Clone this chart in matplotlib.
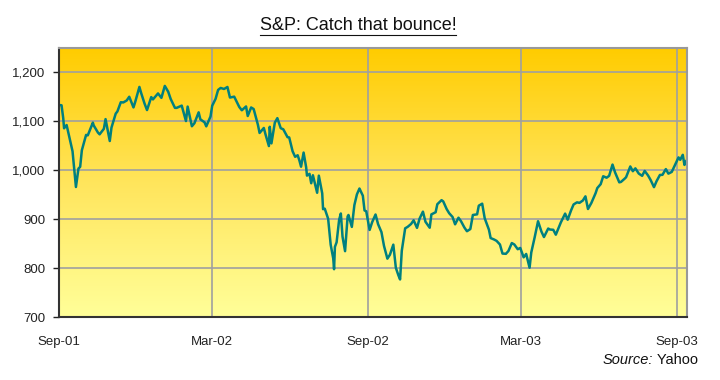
import numpy as np
import pandas as pd
from matplotlib import pyplot as plt
from matplotlib.colors import LinearSegmentedColormap
from matplotlib.lines import Line2D
from matplotlib.ticker import FuncFormatter

plt.rcParams['font.family'] = ['Liberation Sans', 'DejaVu Sans']

# S&P 500 closes
dates = [
    '2001-08-31', '2001-09-04', '2001-09-06', '2001-09-07', '2001-09-10', '2001-09-17',
    '2001-09-20', '2001-09-21', '2001-09-24', '2001-09-26', '2001-09-28', '2001-10-03',
    '2001-10-05', '2001-10-11', '2001-10-12', '2001-10-17', '2001-10-19', '2001-10-24',
    '2001-10-26', '2001-10-31', '2001-11-02', '2001-11-07', '2001-11-09', '2001-11-13',
    '2001-11-16', '2001-11-20', '2001-11-23', '2001-11-28', '2001-11-30', '2001-12-05',
    '2001-12-07', '2001-12-11', '2001-12-14', '2001-12-19', '2001-12-21', '2001-12-27',
    '2001-12-31', '2002-01-04', '2002-01-08', '2002-01-11', '2002-01-16', '2002-01-18',
    '2002-01-24', '2002-01-29', '2002-01-31', '2002-02-05', '2002-02-08', '2002-02-13',
    '2002-02-15', '2002-02-20', '2002-02-22', '2002-02-27', '2002-03-01', '2002-03-05',
    '2002-03-08', '2002-03-11', '2002-03-15', '2002-03-19', '2002-03-22', '2002-03-27',
    '2002-04-02', '2002-04-05', '2002-04-10', '2002-04-12', '2002-04-16', '2002-04-19',
    '2002-04-24', '2002-04-26', '2002-05-01', '2002-05-03', '2002-05-07', '2002-05-08',
    '2002-05-10', '2002-05-14', '2002-05-17', '2002-05-21', '2002-05-24', '2002-05-29',
    '2002-05-31', '2002-06-04', '2002-06-07', '2002-06-10', '2002-06-12', '2002-06-14',
    '2002-06-17', '2002-06-20', '2002-06-21', '2002-06-24', '2002-06-26', '2002-06-28',
    '2002-07-03', '2002-07-05', '2002-07-09', '2002-07-10', '2002-07-12', '2002-07-16',
    '2002-07-19', '2002-07-22', '2002-07-23', '2002-07-24', '2002-07-26', '2002-07-29',
    '2002-07-31', '2002-08-02', '2002-08-05', '2002-08-08', '2002-08-09', '2002-08-13',
    '2002-08-16', '2002-08-19', '2002-08-22', '2002-08-26', '2002-08-28', '2002-08-30',
    '2002-09-03', '2002-09-06', '2002-09-10', '2002-09-13', '2002-09-17', '2002-09-20',
    '2002-09-24', '2002-09-27', '2002-10-01', '2002-10-04', '2002-10-07', '2002-10-09',
    '2002-10-11', '2002-10-15', '2002-10-18', '2002-10-22', '2002-10-25', '2002-10-29',
    '2002-11-01', '2002-11-05', '2002-11-08', '2002-11-13', '2002-11-15', '2002-11-20',
    '2002-11-22', '2002-11-27', '2002-11-29', '2002-12-03', '2002-12-06', '2002-12-10',
    '2002-12-13', '2002-12-17', '2002-12-20', '2002-12-24', '2002-12-27', '2002-12-31',
    '2003-01-03', '2003-01-08', '2003-01-10', '2003-01-14', '2003-01-17', '2003-01-22',
    '2003-01-24', '2003-01-28', '2003-01-31', '2003-02-04', '2003-02-07', '2003-02-11',
    '2003-02-14', '2003-02-18', '2003-02-21', '2003-02-25', '2003-02-28', '2003-03-04',
    '2003-03-07', '2003-03-11', '2003-03-13', '2003-03-17', '2003-03-21', '2003-03-25',
    '2003-03-28', '2003-04-02', '2003-04-04', '2003-04-08', '2003-04-11', '2003-04-15',
    '2003-04-17', '2003-04-22', '2003-04-25', '2003-04-29', '2003-05-02', '2003-05-06',
    '2003-05-09', '2003-05-13', '2003-05-16', '2003-05-19', '2003-05-23', '2003-05-28',
    '2003-05-30', '2003-06-03', '2003-06-06', '2003-06-10', '2003-06-13', '2003-06-17',
    '2003-06-20', '2003-06-25', '2003-06-27', '2003-07-01', '2003-07-03', '2003-07-08',
    '2003-07-11', '2003-07-14', '2003-07-18', '2003-07-22', '2003-07-25', '2003-07-29',
    '2003-08-01', '2003-08-05', '2003-08-08', '2003-08-12', '2003-08-15', '2003-08-19',
    '2003-08-22', '2003-08-26', '2003-08-29', '2003-09-03', '2003-09-05', '2003-09-08',
    '2003-09-10', '2003-09-12',
]
closes = [
    1133.6, 1132.9, 1106.4, 1085.8, 1092.5, 1038.8,
    984.5, 965.8, 1003.5, 1007.0, 1040.9, 1072.3,
    1071.4, 1097.4, 1091.7, 1077.1, 1073.5, 1084.8,
    1104.6, 1059.8, 1087.2, 1115.8, 1120.3, 1139.1,
    1138.7, 1142.7, 1150.3, 1128.5, 1139.5, 1170.4,
    1158.3, 1136.8, 1123.1, 1149.6, 1144.9, 1157.1,
    1148.1, 1172.5, 1160.7, 1145.6, 1127.6, 1127.6,
    1132.2, 1100.6, 1130.2, 1090.0, 1096.2, 1118.5,
    1104.2, 1098.0, 1089.8, 1109.9, 1131.8, 1146.1,
    1164.3, 1168.3, 1166.2, 1170.3, 1148.7, 1150.5,
    1129.4, 1122.7, 1130.5, 1111.0, 1128.4, 1125.2,
    1093.1, 1076.3, 1086.5, 1073.4, 1049.5, 1088.9,
    1055.0, 1097.3, 1106.6, 1086.0, 1083.8, 1067.7,
    1067.1, 1038.9, 1027.5, 1030.7, 1020.3, 1007.3,
    1036.2, 1006.3, 989.1, 992.7, 973.5, 989.8,
    954.0, 989.0, 952.8, 920.5, 921.4, 900.9,
    847.8, 819.9, 797.7, 843.4, 852.8, 899.0,
    911.6, 864.2, 834.6, 905.5, 908.6, 884.2,
    928.8, 950.7, 962.7, 948.0, 917.9, 916.1,
    878.0, 893.9, 909.6, 889.8, 873.5, 845.4,
    819.3, 827.4, 847.9, 800.6, 785.3, 776.8,
    835.3, 881.3, 884.4, 890.2, 897.7, 882.2,
    901.0, 915.4, 894.7, 882.5, 909.8, 914.2,
    930.6, 938.9, 936.3, 920.8, 912.2, 904.5,
    889.5, 903.0, 895.8, 882.9, 875.4, 879.8,
    908.6, 909.9, 927.6, 931.7, 901.8, 878.4,
    861.4, 858.5, 855.7, 848.2, 829.7, 829.2,
    834.9, 851.2, 848.2, 838.6, 841.2, 822.0,
    828.9, 800.7, 831.9, 862.8, 895.8, 874.7,
    863.5, 880.9, 878.9, 878.3, 868.3, 885.2,
    893.6, 911.4, 898.8, 917.9, 930.1, 934.4,
    933.4, 938.3, 946.7, 920.8, 933.2, 953.2,
    963.6, 971.6, 987.8, 984.8, 988.6, 1011.7,
    995.7, 975.3, 976.2, 982.3, 985.7, 1007.8,
    998.1, 1003.9, 993.3, 988.6, 998.7, 989.3,
    980.2, 965.5, 977.6, 990.4, 990.7, 1002.4,
    993.1, 996.7, 1008.0, 1026.3, 1021.4, 1031.6,
    1010.9, 1018.6,
]

tick_dates = ['2001-09-01', '2002-03-01', '2002-09-01', '2003-03-01', '2003-09-01']
tick_labels = ['Sep-01', 'Mar-02', 'Sep-02', 'Mar-03', 'Sep-03']
y_ticks = [700, 800, 900, 1000, 1100, 1200]

if __name__ == '__main__':
    s = pd.Series(closes, index=pd.to_datetime(dates))

    fig = plt.figure(figsize=(7.2, 3.8), dpi=100)
    ax = fig.add_axes([59 / 720, 1 - 317 / 380, 628 / 720, 269 / 380])

    x0 = pd.Timestamp('2001-09-01')
    x1 = pd.Timestamp('2003-09-13')
    ax.set_xlim(x0, x1)
    ax.set_ylim(700, 1250)

    # gradient background, orange at top to pale yellow at bottom
    cmap = LinearSegmentedColormap.from_list('bg', ['#FFCC00', '#FFE55C', '#FFFF99'])
    grad = np.linspace(0, 1, 256).reshape(-1, 1)
    ax.imshow(grad, cmap=cmap, aspect='auto', zorder=0,
              extent=[ax.get_xlim()[0], ax.get_xlim()[1], 700, 1250], origin='upper')

    ax.plot(s.index, s.values, color='#008080', lw=1.8, zorder=3)

    ax.set_xticks(pd.to_datetime(tick_dates))
    ax.set_xticklabels(tick_labels)
    ax.set_yticks(y_ticks)
    ax.yaxis.set_major_formatter(FuncFormatter(lambda v, p: '{:,.0f}'.format(v)))

    ax.grid(True, color='#A0A0A0', lw=1.2, zorder=1)
    ax.set_axisbelow(False)
    for line in ax.get_xgridlines() + ax.get_ygridlines():
        line.set_zorder(1)

    ax.tick_params(axis='x', length=0, pad=14, labelsize=9.5, colors='#222222')
    ax.tick_params(axis='y', length=4, width=1, pad=6, labelsize=9.5,
                   colors='#222222', direction='out')

    ax.spines['left'].set_color('#333333')
    ax.spines['bottom'].set_color('#333333')
    ax.spines['left'].set_linewidth(1.5)
    ax.spines['bottom'].set_linewidth(1.5)
    ax.spines['top'].set_color('#999999')
    ax.spines['right'].set_color('#999999')
    ax.spines['top'].set_linewidth(1.5)
    ax.spines['right'].set_linewidth(1.5)
    for sp in ax.spines.values():
        sp.set_zorder(4)

    # title with underline
    title = fig.text(358 / 720, 1 - 26 / 380, 'S&P: Catch that bounce!', ha='center',
                     va='center', fontsize=13, color='#111111')
    fig.canvas.draw()
    r = fig.canvas.get_renderer()
    bb = title.get_window_extent(r).transformed(fig.transFigure.inverted())
    fig.add_artist(Line2D([bb.x0, bb.x1], [1 - 35 / 380] * 2, color='#111111', lw=0.8))

    # source note: italic "Source:" followed by "Yahoo"
    yahoo = fig.text(698 / 720, 1 - 360 / 380, ' Yahoo', ha='right', va='center',
                     fontsize=10.5, color='#111111')
    fig.canvas.draw()
    bb2 = yahoo.get_window_extent(r).transformed(fig.transFigure.inverted())
    fig.text(bb2.x0, 1 - 360 / 380, 'Source:', ha='right', va='center',
             fontsize=10.5, style='italic', color='#111111')

    plt.savefig('out.png', dpi=100)
